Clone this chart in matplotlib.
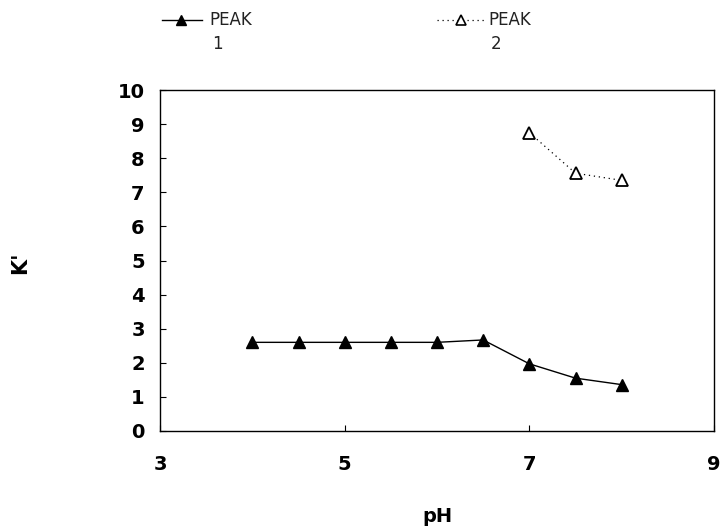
import matplotlib
matplotlib.use("Agg")
import matplotlib.pyplot as plt
from matplotlib.lines import Line2D

ph_peak1 = [4.0, 4.5, 5.0, 5.5, 6.0, 6.5, 7.0, 7.5, 8.0]
k_peak1 = [2.6, 2.6, 2.6, 2.6, 2.6, 2.67, 1.97, 1.55, 1.36]
ph_peak2 = [7.0, 7.5, 8.0]
k_peak2 = [8.75, 7.56, 7.35]
x_ticks = [3, 5, 7, 9]
y_ticks = list(range(0, 11))

fig = plt.figure(figsize=(7.23, 5.30), dpi=100)
ax = fig.add_axes([160/723, 1 - 431/530, (714 - 160)/723, (431 - 90)/530])

ax.plot(ph_peak1, k_peak1, color="black", lw=1.0, marker="^", ms=8,
        markerfacecolor="black", markeredgecolor="black")
ax.plot(ph_peak2, k_peak2, color="black", lw=0.9, ls=(0, (1, 3)), marker="^", ms=8,
        markerfacecolor="white", markeredgecolor="black", markeredgewidth=1.3)

ax.set_xlim(3, 9)
ax.set_ylim(0, 10)
ax.set_xticks(x_ticks)
ax.set_yticks(y_ticks)
ax.tick_params(axis="both", direction="in", length=4, width=0.8, labelsize=14)
ax.tick_params(axis="x", pad=17)
ax.tick_params(axis="y", pad=11)
for lab in ax.get_xticklabels() + ax.get_yticklabels():
    lab.set_fontweight("heavy")
for s in ax.spines.values():
    s.set_linewidth(1.0)

def fx(px):
    return px / 723
def fy(py):
    return 1 - py / 530

fig.text(fx(437), fy(516), "pH", fontsize=14, fontweight="heavy", ha="center", va="center")
fig.text(fx(20), fy(263), "K'", fontsize=15, fontweight="heavy", ha="center", va="center",
         rotation=90)

# legend drawn manually in figure coords
fig.add_artist(Line2D([fx(162), fx(202)], [fy(20), fy(20)], color="black", lw=1.0,
                      transform=fig.transFigure))
fig.add_artist(Line2D([fx(181)], [fy(20)], color="black", marker="^", ms=7,
                      markerfacecolor="black", transform=fig.transFigure))
fig.text(fx(209), fy(20), "PEAK", fontsize=12, va="center", ha="left", color="#222222")
fig.text(fx(217), fy(44), "1", fontsize=12, va="center", ha="center", color="#222222")

fig.add_artist(Line2D([fx(437), fx(484)], [fy(20), fy(20)], color="black", lw=0.9,
                      ls=(0, (1, 3)), transform=fig.transFigure))
fig.add_artist(Line2D([fx(461)], [fy(20)], color="black", marker="^", ms=7,
                      markerfacecolor="white", markeredgewidth=1.2, transform=fig.transFigure))
fig.text(fx(488), fy(20), "PEAK", fontsize=12, va="center", ha="left", color="#222222")
fig.text(fx(496), fy(44), "2", fontsize=12, va="center", ha="center", color="#222222")

fig.savefig("out.png", dpi=100)
